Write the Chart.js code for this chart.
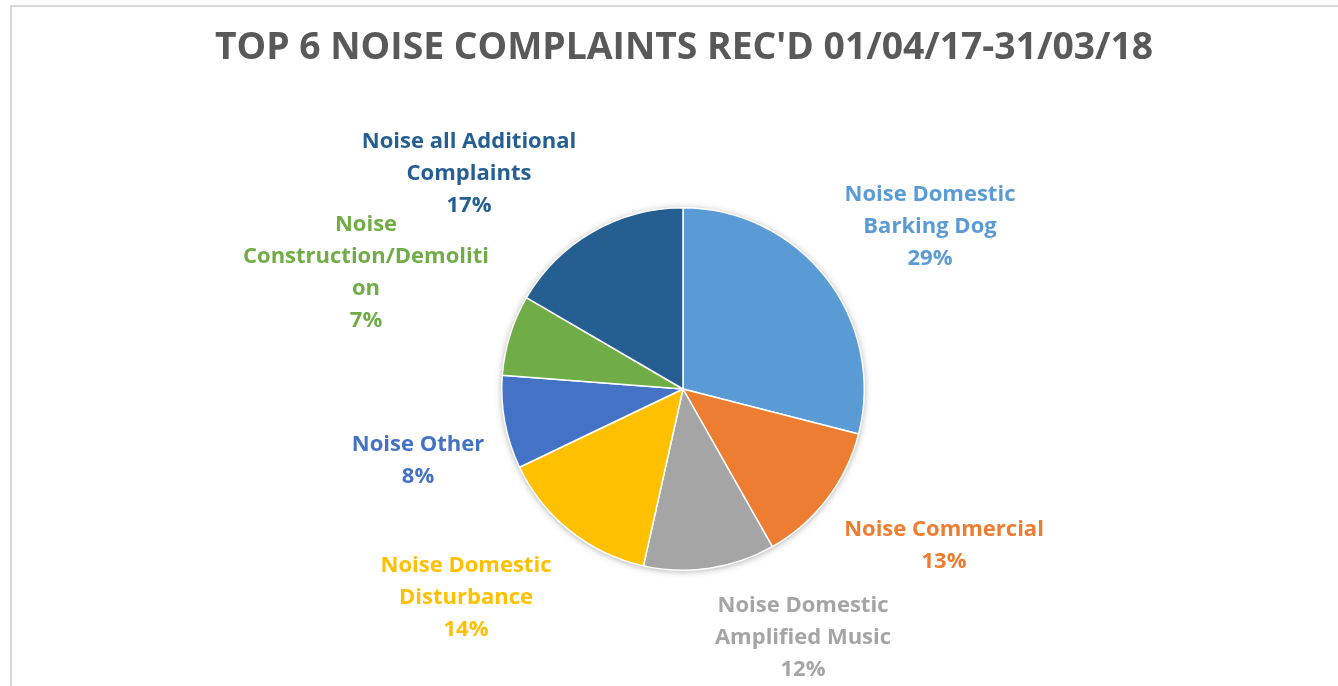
<!DOCTYPE html>
<html>
<head>
<meta charset="utf-8">
<script src="https://cdn.jsdelivr.net/npm/chart.js@4.4.1/dist/chart.umd.min.js"></script>
<style>
  html, body { margin: 0; padding: 0; background: #ffffff; }
  #wrap { width: 1338px; height: 686px; position: relative; }
</style>
</head>
<body>
<div id="wrap"><canvas id="pieChart" width="1338" height="686"></canvas></div>
<script>
// ── Data ──────────────────────────────────────────────────────────────────
const chartTitle = "TOP 6 NOISE COMPLAINTS REC'D 01/04/17-31/03/18";
const categories = [
    'Noise Domestic Barking Dog',
    'Noise Commercial',
    'Noise Domestic Amplified Music',
    'Noise Domestic Disturbance',
    'Noise Other',
    'Noise Construction/Demolition',
    'Noise all Additional Complaints'
];
// share of complaints (%)
const shares = [29.0, 12.8, 11.7, 14.4, 8.3, 7.2, 16.6];
// label text as wrapped in the original
const labelLines = [
    ['Noise Domestic', 'Barking Dog'],
    ['Noise Commercial'],
    ['Noise Domestic', 'Amplified Music'],
    ['Noise Domestic', 'Disturbance'],
    ['Noise Other'],
    ['Noise', 'Construction/Demoliti', 'on'],
    ['Noise all Additional', 'Complaints']
];
const sliceColors = ['#5B9BD5', '#ED7D31', '#A5A5A5', '#FFC000', '#4472C4', '#70AD47', '#255E91'];

const FONT = '"Open Sans", "DejaVu Sans", sans-serif';

// ── Frame (thin grey border, top + left visible) + title ─────────────────
const framePlugin = {
    id: 'frame',
    beforeDraw(chart, args, opts) {
        const c = chart.ctx;
        c.save();
        c.strokeStyle = '#D9D9D9';
        c.lineWidth = 2;
        c.strokeRect(11, 6, chart.width + 20, chart.height + 20);
        c.fillStyle = '#595959';
        c.font = `bold ${opts.titleSize}px ${FONT}`;
        c.textAlign = 'center';
        c.textBaseline = 'middle';
        c.fillText(chartTitle, opts.titleX, opts.titleY);
        c.restore();
    },
    // soft shadow behind the pie
    beforeDatasetsDraw(chart) {
        const arc = chart.getDatasetMeta(0).data[0];
        if (!arc) return;
        const c = chart.ctx;
        c.save();
        c.shadowColor = 'rgba(0,0,0,0.35)';
        c.shadowBlur = 7;
        c.shadowOffsetX = 0;
        c.shadowOffsetY = 1;
        c.fillStyle = '#ffffff';
        c.beginPath();
        c.arc(arc.x, arc.y, arc.outerRadius, 0, Math.PI * 2);
        c.fill();
        c.restore();
    }
};

// ── Outside data labels (category + percent) ─────────────────────────────
const outsideLabels = {
    id: 'outsideLabels',
    afterDatasetsDraw(chart, args, opts) {
        const c = chart.ctx;
        const arcs = chart.getDatasetMeta(0).data;
        const total = shares.reduce((a, b) => a + b, 0);
        c.save();
        c.font = `bold ${opts.size}px ${FONT}`;
        c.textAlign = 'center';
        c.textBaseline = 'middle';
        arcs.forEach((arc, i) => {
            const lines = labelLines[i].concat([Math.round(shares[i] / total * 100) + '%']);
            const [dx, dy] = opts.offsets[i];
            const cx = arc.x + dx;
            const cy = arc.y + dy - (lines.length - 1) * opts.lineHeight / 2;
            c.fillStyle = sliceColors[i];
            lines.forEach((t, k) => c.fillText(t, cx, cy + k * opts.lineHeight));
        });
        c.restore();
    }
};

const chart = new Chart(document.getElementById('pieChart'), {
    type: 'pie',
    data: {
        labels: categories,
        datasets: [{
            data: shares,
            backgroundColor: sliceColors,
            borderColor: '#ffffff',
            borderWidth: 1.5
        }]
    },
    options: {
        responsive: false,
        animation: false,
        layout: { padding: { left: 501, right: 473, top: 207, bottom: 115 } },
        plugins: {
            legend: { display: false },
            tooltip: { enabled: false },
            title: { display: false },
            frame: { titleSize: 37.3, titleX: 684, titleY: 48 },
            outsideLabels: {
                size: 22,
                lineHeight: 32,
                offsets: [[247, -162], [261, 157], [120, 249], [-217, 209], [-265, 72], [-317, -116], [-214, -215]]
            }
        }
    },
    plugins: [framePlugin, outsideLabels]
});
</script>
</body>
</html>
